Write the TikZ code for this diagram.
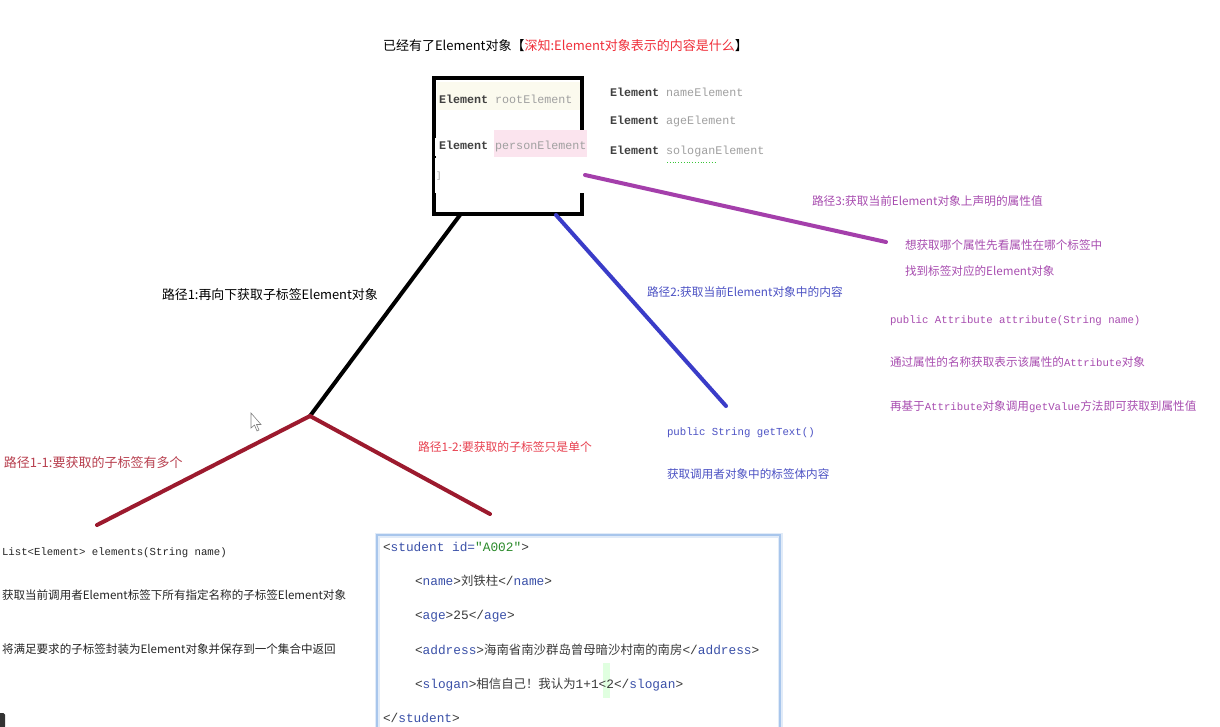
\documentclass[tikz,border=0pt]{standalone}
\usepackage{fontspec}
\newfontfamily\cjk{Noto Sans CJK SC}
\newfontfamily\cmono{Liberation Mono}
\newcommand\fsz[1]{\fontsize{#1}{#1}\selectfont}
\definecolor{purp}{HTML}{A43FAB}
\definecolor{purptxt}{HTML}{A84DB0}
\definecolor{blueln}{HTML}{3A3CC8}
\definecolor{bluetxt}{HTML}{4C52C4}
\definecolor{darkred}{HTML}{9C1A2E}
\definecolor{redA}{HTML}{B8404F}
\definecolor{redB}{HTML}{E8404F}
\definecolor{titlered}{HTML}{F02F3A}
\definecolor{kw}{HTML}{404040}
\definecolor{vname}{HTML}{A0A0A0}
\definecolor{tagc}{HTML}{3A50A8}
\definecolor{brk}{HTML}{3A3A3A}
\definecolor{valc}{HTML}{2A8A2A}
\definecolor{codeborder}{HTML}{A8C6EC}
\definecolor{yellowbg}{HTML}{FBFAEE}
\definecolor{pinkbg}{HTML}{FBE4EE}
\tikzset{
  txt/.style={anchor=west, inner sep=0pt, outer sep=0pt},
  pathln/.style={line width=4pt, line cap=round},
}
\begin{document}
\begin{tikzpicture}[x=1pt,y=-1pt]
\useasboundingbox (0,0) rectangle (1220,726);
\fill[white] (0,0) rectangle (1220,726);

% title
\node[txt, font=\cjk\fsz{13}] (title) at (383,46) {已经有了Element对象【{\color{titlered}深知:Element对象表示的内容是什么}】};

% element box
\node[draw, line width=4pt, minimum width=148pt, minimum height=136pt, inner sep=0pt] (elbox) at (508,146) {};
\fill[yellowbg] (437,82) rectangle (580,110);
\fill[pinkbg] (494,130) rectangle (587,157);
\fill[white] (579,157) rectangle (587,193);
\fill[white] (434.5,158) rectangle (437,193);
\node[txt, font=\cmono\fsz{11.7}] (root) at (439,99) {{\bfseries\color{kw}Element} {\color{vname}rootElement}};
\node[txt, font=\cmono\fsz{11.7}] (person) at (439,146) {{\bfseries\color{kw}Element} {\color{vname}personElement}};
\fill[white] (434.5,138) rectangle (437.5,156);
\node[txt, font=\cmono\fsz{9}, text=vname] (brkt) at (436,176) {]};

% right element list
\node[txt, font=\cmono\fsz{11.7}] (nameE) at (610,92) {{\bfseries\color{kw}Element} {\color{vname}nameElement}};
\node[txt, font=\cmono\fsz{11.7}] (ageE) at (610,121) {{\bfseries\color{kw}Element} {\color{vname}ageElement}};
\node[txt, font=\cmono\fsz{11.7}] (solE) at (610,151) {{\bfseries\color{kw}Element} {\color{vname}sologanElement}};
\draw[green!55!gray, line width=0.8pt, dotted] (667,162) -- (715,162);

% connectors
\coordinate (bl) at (460,215);
\coordinate (jn) at (310,416);
\coordinate (e11) at (97,525);
\coordinate (e12) at (490,514);
\coordinate (br) at (556,215);
\coordinate (e2) at (726,406);
\coordinate (p3s) at (585,175);
\coordinate (e3) at (886,242);
\draw[pathln, black] (bl) -- (jn);
\draw[pathln, darkred] (jn) -- (e11);
\draw[pathln, darkred] (jn) -- (e12);
\draw[pathln, blueln] (br) -- (e2);
\draw[pathln, purp] (p3s) -- (e3);

% path 1 labels
\node[txt, font=\cjk\fsz{12.9}] (p1) at (162,295) {路径1:再向下获取子标签Element对象};
\node[txt, font=\cjk\fsz{13}, text=redA] (p11) at (4,463) {路径1-1:要获取的子标签有多个};
\node[txt, font=\cjk\fsz{11.8}, text=redB] (p12) at (418,447) {路径1-2:要获取的子标签只是单个};

% path 1-1 text
\node[txt, font=\cmono\fsz{10.7}, text=black!85] (list) at (2,553) {List<Element> elements(String name)};
\node[txt, font=\cjk\fsz{11.55}, text=black!85] (d1) at (2,595) {获取当前调用者Element标签下所有指定名称的子标签Element对象};
\node[txt, font=\cjk\fsz{11.55}, text=black!85] (d2) at (2,649) {将满足要求的子标签封装为Element对象并保存到一个集合中返回};

% path 2
\node[txt, font=\cjk\fsz{11.7}, text=bluetxt] (p2) at (647,292) {路径2:获取当前Element对象中的内容};
\node[txt, font=\cmono\fsz{10.7}, text=bluetxt] (gt) at (667,433) {public String getText()};
\node[txt, font=\cjk\fsz{11.6}, text=bluetxt] (gtd) at (667,474) {获取调用者对象中的标签体内容};

% path 3
\node[txt, font=\cjk\fsz{11.7}, text=purptxt] (p3) at (812,201) {路径3:获取当前Element对象上声明的属性值};
\node[txt, font=\cjk\fsz{11.6}, text=purptxt] (p3a) at (905,245) {想获取哪个属性先看属性在哪个标签中};
\node[txt, font=\cjk\fsz{11.6}, text=purptxt] (p3b) at (905,271) {找到标签对应的Element对象};
\node[txt, font=\cmono\fsz{10.7}, text=purptxt] (attr) at (890,321) {public Attribute attribute(String name)};
\node[txt, font=\cjk\fsz{11.6}, text=purptxt] (p3c) at (890,362) {通过属性的名称获取表示该属性的{\cmono\fsz{10.7}Attribute}对象};
\node[txt, font=\cjk\fsz{11.6}, text=purptxt] (p3d) at (890,407) {再基于{\cmono\fsz{10.7}Attribute}对象调用{\cmono\fsz{10.7}getValue}方法即可获取到属性值};

% code box
\draw[codeborder!35, line width=5pt] (377,740) -- (377,535) -- (780,535) -- (780,740);
\draw[codeborder, line width=1.3pt] (377,740) -- (377,535) -- (780,535) -- (780,740);
\fill[green!12] (603,663) rectangle (610,698);
\node[txt, font=\cmono\fsz{12.8}] (c1) at (383,547) {{\color{brk}<}{\color{tagc}student id=}{\color{valc}"A002"}{\color{brk}>}};
\node[txt, font=\cmono\fsz{12.8}] (c2) at (415,581) {{\color{brk}<}{\color{tagc}name}{\color{brk}>}{\cjk\fsz{12.4}\color{brk}刘铁柱}{\color{brk}</}{\color{tagc}name}{\color{brk}>}};
\node[txt, font=\cmono\fsz{12.8}] (c3) at (415,616) {{\color{brk}<}{\color{tagc}age}{\color{brk}>25</}{\color{tagc}age}{\color{brk}>}};
\node[txt, font=\cmono\fsz{12.8}] (c4) at (415,650) {{\color{brk}<}{\color{tagc}address}{\color{brk}>}{\cjk\fsz{12.4}\color{brk}海南省南沙群岛曾母暗沙村南的南房}{\color{brk}</}{\color{tagc}address}{\color{brk}>}};
\node[txt, font=\cmono\fsz{12.8}] (c5) at (415,685) {{\color{brk}<}{\color{tagc}slogan}{\color{brk}>}{\cjk\fsz{12.4}\color{brk}相信自己！我认为}{\color{brk}1+1<2</}{\color{tagc}slogan}{\color{brk}>}};
\node[txt, font=\cmono\fsz{12.8}] (c6) at (383,718) {{\color{brk}</}{\color{tagc}student}{\color{brk}>}};

% screen artifacts
\filldraw[fill=white, draw=gray, line width=0.6pt] (251,413) -- (251,428) -- (254.5,425) -- (257,431) -- (259,430) -- (256.5,424.5) -- (261,424.5) -- cycle;
\fill[black!80, rounded corners=1.5pt] (-2,713) rectangle (5,728);
\end{tikzpicture}
\end{document}
